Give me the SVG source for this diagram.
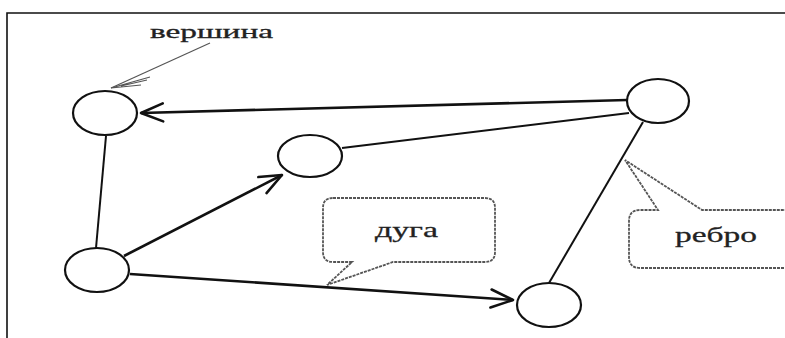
<svg xmlns="http://www.w3.org/2000/svg" width="785" height="338" viewBox="0 0 785 338">
<style>
.frame{stroke:#111;stroke-width:1.6;fill:none}
.node{fill:#fff;stroke:#111;stroke-width:2.2}
.edge{stroke:#111;stroke-width:2;fill:none}
.arc{stroke:#111;stroke-width:2.6;fill:none}
.callout{fill:#fff;stroke:#555;stroke-width:1.8;stroke-dasharray:3 1}
.lbl{font-family:"Liberation Serif","Times New Roman",serif;fill:#222;stroke:#222;stroke-width:0.3}
.pointer{stroke:#555;stroke-width:1.2;fill:none}
</style>
<defs>
<marker id="ah" markerUnits="userSpaceOnUse" viewBox="0 0 26 22" markerWidth="26" markerHeight="22" refX="24" refY="11" orient="auto">
<path d="M2,2 L24,11 L2,20" fill="none" stroke="#111" stroke-width="2.6" stroke-linecap="round" stroke-linejoin="round"/>
</marker>
</defs>
<rect width="785" height="338" fill="#fff"/>
<path class="frame" d="M7,338 V13 H785"/>
<g id="connectors">
<line class="arc" x1="627" y1="100" x2="141" y2="113" marker-end="url(#ah)"/>
<line class="edge" x1="629" y1="113" x2="342" y2="148"/>
<line class="edge" x1="106" y1="136" x2="96" y2="248"/>
<line class="arc" x1="124" y1="256" x2="282" y2="175" marker-end="url(#ah)"/>
<line class="arc" x1="130" y1="274" x2="513" y2="300" marker-end="url(#ah)"/>
<line class="edge" x1="643" y1="122" x2="549" y2="283"/>
</g>
<g id="n1"><ellipse class="node" cx="105" cy="113" rx="32" ry="22"/></g>
<g id="n2"><ellipse class="node" cx="310" cy="156" rx="32" ry="21"/></g>
<g id="n3"><ellipse class="node" cx="658" cy="101" rx="31" ry="22"/></g>
<g id="n4"><ellipse class="node" cx="97" cy="270" rx="32" ry="22"/></g>
<g id="n5"><ellipse class="node" cx="549" cy="305" rx="32" ry="22"/></g>
<g id="label-vershina">
<text class="lbl" x="150" y="38" font-size="19" textLength="123" lengthAdjust="spacingAndGlyphs">вершина</text>
<path class="pointer" d="M210,43 L111,88"/>
<path class="pointer" d="M150,77 L111,88 L141,85 M147,80 L121,86"/>
</g>
<g id="callout-duga">
<path class="callout" d="M333,198 H485 Q495,198 495,208 V252 Q495,262 485,262 H393 L327,285 L352,262 H333 Q323,262 323,252 V208 Q323,198 333,198 Z"/>
<text class="lbl" x="375" y="237" font-size="22" textLength="63" lengthAdjust="spacingAndGlyphs">дуга</text>
</g>
<g id="callout-rebro">
<path class="callout" d="M800,268 H640 Q629,268 629,257 V221 Q629,210 640,210 H658 L625,160 L702,210 H800"/>
<text class="lbl" x="675" y="242" font-size="22" textLength="82" lengthAdjust="spacingAndGlyphs">ребро</text>
</g>
</svg>
